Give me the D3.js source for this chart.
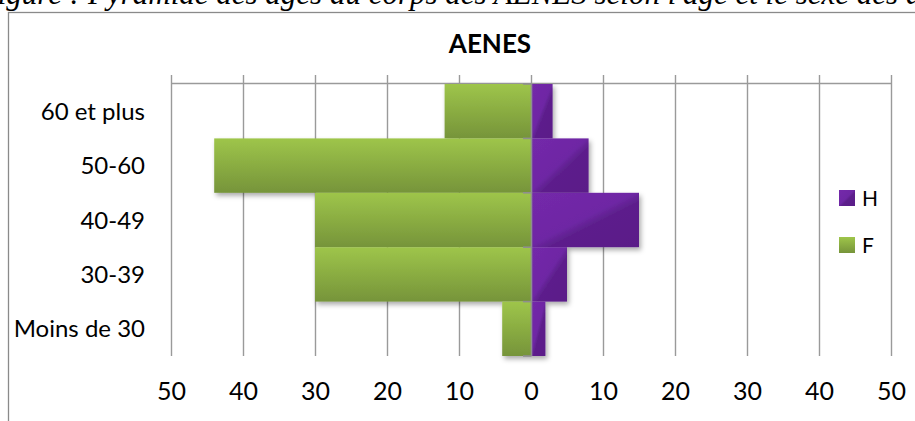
<!DOCTYPE html>
<html>
<head>
<meta charset="utf-8">
<script src="https://cdn.jsdelivr.net/npm/d3@7"></script>
<style>
  html, body { margin: 0; padding: 0; background: #fff; overflow: hidden; }
  svg { display: block; }
</style>
</head>
<body>
<svg id="chart" width="915" height="421"></svg>
<script>
// Age groups, listed top to bottom as in the pyramid
const categories = ["60 et plus", "50-60", "40-49", "30-39", "Moins de 30"];
// Women (left side) and men (right side), per age group
const femmes = [12, 44, 30, 30, 4];
const hommes = [3, 8, 15, 5, 2];
const tickValues = [-50, -40, -30, -20, -10, 0, 10, 20, 30, 40, 50];
const seriesNames = ["H", "F"];
const chartTitle = "AENES";
const captionPrefix = "Figure :";
const captionText = "Pyramide des âges au corps des AENES selon l'âge et le sexe des agents";

const svg = d3.select("#chart");
const font = "Lato, 'Open Sans', sans-serif";

const x = d3.scaleLinear().domain([-50, 50]).range([171, 891]);
const y = d3.scaleBand().domain(categories).range([84, 356]).padding(0);

// Defs: gradients and soft shadow
const defs = svg.append("defs");
const gF = defs.append("linearGradient").attr("id", "gradF")
  .attr("x1", 0).attr("y1", 0).attr("x2", 0).attr("y2", 1);
gF.append("stop").attr("offset", "0%").attr("stop-color", "#9ec54a");
gF.append("stop").attr("offset", "100%").attr("stop-color", "#76943a");

const gH = defs.append("linearGradient").attr("id", "gradH")
  .attr("x1", 0).attr("y1", 0).attr("x2", 1).attr("y2", 1);
gH.append("stop").attr("offset", "0%").attr("stop-color", "#7429aa");
gH.append("stop").attr("offset", "48%").attr("stop-color", "#6e27a4");
gH.append("stop").attr("offset", "58%").attr("stop-color", "#5d1f8c");
gH.append("stop").attr("offset", "100%").attr("stop-color", "#5a1d88");

const shadow = defs.append("filter").attr("id", "shadow")
  .attr("x", "-10%").attr("y", "-10%").attr("width", "130%").attr("height", "140%");
shadow.append("feDropShadow").attr("dx", 2).attr("dy", 3)
  .attr("stdDeviation", 2.4).attr("flood-color", "#000").attr("flood-opacity", 0.33);

// Caption line of the surrounding document (mostly above the frame)
const serif = "'Liberation Serif', 'Times New Roman', serif";
svg.append("text").attr("x", 80).attr("y", 4)
  .attr("text-anchor", "end")
  .attr("font-family", serif)
  .attr("font-style", "italic").attr("font-size", 31).attr("fill", "#000")
  .text(captionPrefix);
svg.append("text").attr("x", 88).attr("y", 4)
  .attr("font-family", serif)
  .attr("font-style", "italic").attr("font-size", 31).attr("fill", "#000")
  .text(captionText);

// Chart frame
svg.append("rect").attr("x", 8.5).attr("y", 12.5)
  .attr("width", 1000).attr("height", 600)
  .attr("fill", "#fff").attr("stroke", "#8a8a8a").attr("stroke-width", 1.3);

// Title
svg.append("text").attr("x", 490).attr("y", 53)
  .attr("text-anchor", "middle")
  .attr("font-family", font).attr("font-weight", "bold").attr("font-size", 26)
  .attr("fill", "#000").text(chartTitle);

// Vertical gridlines with tick marks above the top axis line
svg.append("g").attr("transform", "translate(0,356)")
  .call(d3.axisTop(x).tickValues(tickValues).tickSize(356 - 75).tickFormat(""))
  .call(g => g.select(".domain").remove())
  .call(g => g.selectAll("line").attr("stroke", "#9a9a9a").attr("stroke-width", 1.4));

// Value axis line along the top of the plot
svg.append("line")
  .attr("x1", x(-50)).attr("x2", x(50)).attr("y1", 83.5).attr("y2", 83.5)
  .attr("stroke", "#9a9a9a").attr("stroke-width", 1.6);

// Value labels (absolute values) under the plot
svg.append("g").attr("transform", "translate(0,356)")
  .call(d3.axisBottom(x).tickValues(tickValues).tickSize(0).tickPadding(26)
    .tickFormat(d => Math.abs(d)))
  .call(g => g.select(".domain").remove())
  .call(g => g.selectAll("text").attr("font-family", font).attr("font-size", 25).attr("fill", "#000"));

// Bars: women to the left, men to the right
const bars = svg.append("g").attr("filter", "url(#shadow)");
bars.selectAll("rect.f").data(categories).join("rect").attr("class", "f")
  .attr("x", (d, i) => x(-femmes[i]))
  .attr("width", (d, i) => x(0) - x(-femmes[i]))
  .attr("y", d => y(d)).attr("height", y.bandwidth())
  .attr("fill", "url(#gradF)");
bars.selectAll("rect.h").data(categories).join("rect").attr("class", "h")
  .attr("x", x(0))
  .attr("width", (d, i) => x(hommes[i]) - x(0))
  .attr("y", d => y(d)).attr("height", y.bandwidth())
  .attr("fill", "url(#gradH)");

// Category axis at zero, with ticks between the groups
const catAxis = svg.append("g");
catAxis.append("line")
  .attr("x1", x(0) + 0.5).attr("x2", x(0) + 0.5)
  .attr("y1", y.range()[0]).attr("y2", y.range()[1])
  .attr("stroke", "#8f8f8f").attr("stroke-width", 1.6);
const boundaries = categories.map(c => y(c)).concat([y.range()[1]]);
catAxis.selectAll("line.tick").data(boundaries).join("line").attr("class", "tick")
  .attr("x1", x(0) - 8).attr("x2", x(0) + 0.5)
  .attr("y1", d => d).attr("y2", d => d)
  .attr("stroke", "#8f8f8f").attr("stroke-width", 1.6);

// Category labels
svg.append("g").selectAll("text").data(categories).join("text")
  .attr("x", 145).attr("y", d => y(d) + y.bandwidth() / 2)
  .attr("dy", "0.36em").attr("text-anchor", "end")
  .attr("font-family", font).attr("font-size", 24).attr("fill", "#000")
  .text(d => d);

// Legend
const legendFills = ["url(#gradH)", "url(#gradF)"];
const legend = svg.append("g").selectAll("g").data(seriesNames).join("g")
  .attr("transform", (d, i) => `translate(839,${190 + i * 47})`);
legend.append("rect").attr("width", 16).attr("height", 16)
  .attr("fill", (d, i) => legendFills[i]);
legend.append("text").attr("x", 23).attr("y", 16)
  .attr("font-family", font).attr("font-size", 21).attr("fill", "#000")
  .text(d => d);
</script>
</body>
</html>
